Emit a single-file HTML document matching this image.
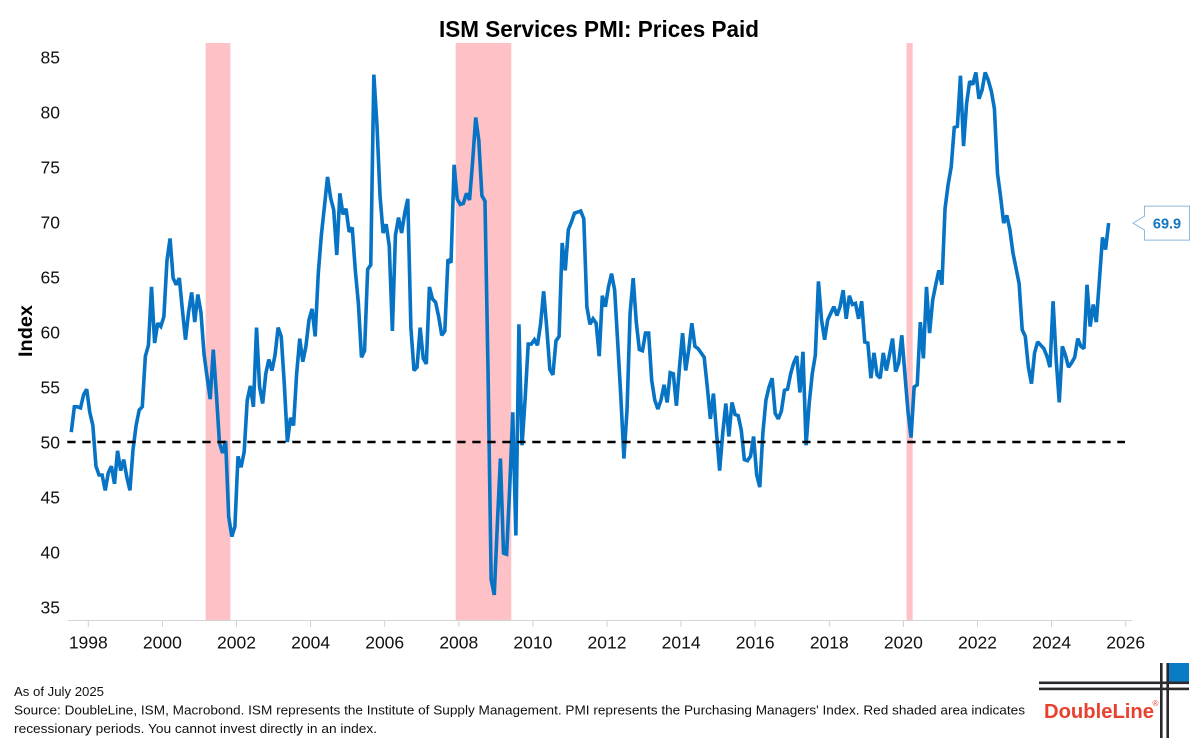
<!DOCTYPE html>
<html lang="en">
<head>
<meta charset="utf-8">
<title>ISM Services PMI: Prices Paid</title>
<style>
  html, body { margin: 0; padding: 0; background: #ffffff; }
  svg { display: block; font-family: "Liberation Sans", sans-serif; }
</style>
</head>
<body>
<svg id="chart" xmlns="http://www.w3.org/2000/svg" width="1200" height="750" viewBox="0 0 1200 750">
  <rect x="0" y="0" width="1200" height="750" fill="#ffffff"/>
  <text x="599" y="37" text-anchor="middle" font-size="23" font-weight="bold" fill="#000" textLength="320" lengthAdjust="spacingAndGlyphs">ISM Services PMI: Prices Paid</text>
  <g id="recession-layer"></g>
  <g id="axis-layer"></g>
  <path id="index-line" fill="none" stroke="#0673c4" stroke-width="3.6" stroke-linejoin="miter" stroke-miterlimit="2"/>
  <line id="reference-line" stroke="#000" stroke-width="2.6" stroke-dasharray="8.3 6.7"/>
  <text transform="translate(32,331) rotate(-90)" text-anchor="middle" font-size="19" font-weight="bold" fill="#000" textLength="52" lengthAdjust="spacingAndGlyphs">Index</text>
  <g id="callout">
    <path id="callout-box" fill="#fff" stroke="#8db8de" stroke-width="1"/>
    <text id="callout-text" text-anchor="middle" font-size="14.5" font-weight="bold" fill="#1277bd"></text>
  </g>
  <g font-size="12.5" fill="#111">
    <text x="14" y="696" textLength="90" lengthAdjust="spacingAndGlyphs">As of July 2025</text>
    <text x="14" y="714.5" textLength="1011" lengthAdjust="spacingAndGlyphs">Source: DoubleLine, ISM, Macrobond. ISM represents the Institute of Supply Management. PMI represents the Purchasing Managers' Index. Red shaded area indicates</text>
    <text x="14" y="733" textLength="363" lengthAdjust="spacingAndGlyphs">recessionary periods. You cannot invest directly in an index.</text>
  </g>
  <g>
    <rect x="1169" y="663" width="20" height="19.5" fill="#0a7cc6"/>
    <rect x="1039" y="681.5" width="150" height="2.6" fill="#2a2a2e"/>
    <rect x="1039" y="687.6" width="150" height="2.6" fill="#2a2a2e"/>
    <rect x="1160" y="663" width="2.6" height="75" fill="#2a2a2e"/>
    <rect x="1166.4" y="663" width="2.6" height="75" fill="#2a2a2e"/>
    <text x="1044" y="718" font-size="20" font-weight="bold" fill="#e8412f" textLength="110" lengthAdjust="spacingAndGlyphs">DoubleLine</text>
    <text x="1152.5" y="706" font-size="8" fill="#e8412f">®</text>
  </g>
</svg>
<script>
// Chart data
const seriesStartYear = 1997.54;
const indexValues = [
  50.9,53.2,53.2,53.1,54.3,54.8,52.7,51.5,47.8,47,
  47,45.6,47.2,47.8,46.2,49.2,47.4,48.4,46.8,45.6,
  49.3,51.5,52.9,53.2,57.8,58.8,64.1,59,60.8,60.5,
  61.4,66.5,68.5,64.9,64.3,64.9,62,59.3,61.8,63.6,
  60.9,63.4,61.8,58,55.9,53.9,58.4,54.4,49.9,49,
  50.1,43.2,41.4,42.3,48.7,47.7,49.1,53.8,55.1,53.2,
  60.4,55,53.5,56.2,57.5,56.5,57.9,60.4,59.6,55.3,
  50,52.2,51.5,56.2,59.4,57.3,58.7,61.1,62.1,59.6,
  65.3,68.8,71.4,74.1,
  72.2,71.1,67,72.6,70.7,71.2,69.1,69.5,65.6,62.6,
  57.7,58.3,65.7,66.1,83.4,78.9,72.4,69,69.8,67.8,
  60.1,68.8,70.4,69,70.8,72.1,60.4,56.5,56.8,60.4,
  57.6,57.1,64.1,63,62.7,61.4,59.7,60.1,66.6,66.3,
  75.2,72.1,71.6,71.7,72.6,72,75.5,79.5,77.4,72.4,
  71.9,56.2,37.5,36.1,42.5,48.5,39.9,39.8,45.8,52.7,
  41.5,60.7,49.7,53.9,58.9,58.9,59.3,58.8,60.7,63.7,
  60.4,56.6,56.1,59.2,59.6,68.1,65.6,69.3,70,70.8,
  70.9,71,70.3,62.3,60.7,
  61.2,60.8,57.8,63.3,62.3,64.1,65.3,63.8,59,54.1,
  48.5,52.9,61.7,64.9,60.9,58.4,58.3,59.9,59.9,55.6,
  53.8,53,53.8,55.2,53.6,56.3,56.2,53.3,56.8,59.9,
  56.5,58.4,60.8,58.7,58.5,58.1,57.7,55,52.1,54.4,
  50.8,47.4,50.8,53.5,50.5,53.6,52.5,52.4,51.1,48.4,
  48.3,48.7,50.5,47,45.9,50.8,53.8,55,55.8,52.6,
  52.1,52.8,54.7,54.8,56.2,57.2,57.8,54.5,58.2,49.7,
  53.5,56.2,57.9,64.6,61.1,59.3,61.1,61.7,62.3,61.5,
  62.3,63.8,61.2,63.3,62.5,62.6,61.2,62.8,59.1,59,
  55.8,58.1,56.1,55.8,58.1,56.5,57.9,59.4,56.4,57.2,
  59.7,56.2,52.8,50.4,
  55,55.2,60.9,57.6,64.1,59.9,62.9,64.3,65.6,64.3,
  71.2,73.4,75,78.6,78.7,83.3,76.9,80.8,82.8,82.5,
  83.6,81.2,82,83.6,82.9,81.9,80.3,74.4,72.3,69.9,
  70.6,69.3,67.2,65.8,64.4,60.2,59.6,56.8,55.3,58.1,
  59.1,58.8,58.5,57.8,56.8,62.8,57.5,53.6,58.7,57.9,
  56.8,57.2,57.7,59.4,58.7,58.5,64.3,60.5,62.5,60.9,
  64.7,68.6,67.5,69.9
];
const xTickYears = [1998,2000,2002,2004,2006,2008,2010,2012,2014,2016,2018,2020,2022,2024,2026];
const yTickValues = [35,40,45,50,55,60,65,70,75,80,85];
const recessionStarts = [2001.1667, 2007.9167, 2020.0833];
const recessionEnds = [2001.8333, 2009.4167, 2020.25];
const referenceLevel = 50;

// Axis functions
function xScale(year) { return 88.3 + (year - 1998) * 37.05; }
function yScale(value) { return 442 - (value - 50) * 11; }

const NS = 'http://www.w3.org/2000/svg';
const plotTop = 43;
const plotBottom = 620;

const recessionLayer = document.getElementById('recession-layer');
recessionStarts.forEach(function (start, i) {
  const band = document.createElementNS(NS, 'rect');
  
  
  band.setAttribute('x', xScale(start));
  band.setAttribute('y', plotTop);
  band.setAttribute('width', xScale(recessionEnds[i]) - xScale(start));
  band.setAttribute('height', plotBottom - plotTop);
  band.setAttribute('fill', '#fec1c6');
  recessionLayer.appendChild(band);
});

const axisLayer = document.getElementById('axis-layer');
const axisLine = document.createElementNS(NS, 'line');


axisLine.setAttribute('x1', 68);
axisLine.setAttribute('x2', 1132);
axisLine.setAttribute('y1', plotBottom + 0.5);
axisLine.setAttribute('y2', plotBottom + 0.5);
axisLine.setAttribute('stroke', '#d4d4d4');
axisLine.setAttribute('stroke-width', '1');
axisLayer.appendChild(axisLine);

xTickYears.forEach(function (year) {
  const px = xScale(year);
  const tick = document.createElementNS(NS, 'line');
  
  
  tick.setAttribute('x1', px);
  tick.setAttribute('x2', px);
  tick.setAttribute('y1', plotBottom);
  tick.setAttribute('y2', plotBottom + 7);
  tick.setAttribute('stroke', '#d0d0d0');
  tick.setAttribute('stroke-width', '1');
  axisLayer.appendChild(tick);
  const label = document.createElementNS(NS, 'text');
  
  
  label.setAttribute('x', px);
  label.setAttribute('y', 648.5);
  label.setAttribute('text-anchor', 'middle');
  label.setAttribute('font-size', '17.5');
  label.setAttribute('fill', '#111');
  label.textContent = String(year);
  axisLayer.appendChild(label);
});

yTickValues.forEach(function (value) {
  const label = document.createElementNS(NS, 'text');
  
  
  label.setAttribute('x', 60);
  label.setAttribute('y', yScale(value) + 6.5);
  label.setAttribute('text-anchor', 'end');
  label.setAttribute('font-size', '17.5');
  label.setAttribute('fill', '#111');
  label.textContent = String(value);
  axisLayer.appendChild(label);
});

const linePath = indexValues.map(function (value, i) {
  const year = seriesStartYear + i / 12;
  return (i === 0 ? 'M' : 'L') + xScale(year).toFixed(2) + ' ' + yScale(value).toFixed(2);
}).join(' ');
document.getElementById('index-line').setAttribute('d', linePath);

const referenceLine = document.getElementById('reference-line');
referenceLine.setAttribute('x1', 67.3);
referenceLine.setAttribute('x2', 1125);
referenceLine.setAttribute('y1', yScale(referenceLevel));
referenceLine.setAttribute('y2', yScale(referenceLevel));

const lastValue = indexValues[indexValues.length - 1];
const lastY = yScale(lastValue);
const boxLeft = 1144.5;
const boxRight = 1189.5;
document.getElementById('callout-box').setAttribute('d',
  'M' + boxLeft + ' ' + (lastY - 17) +
  ' L' + boxRight + ' ' + (lastY - 17) +
  ' L' + boxRight + ' ' + (lastY + 17) +
  ' L' + boxLeft + ' ' + (lastY + 17) +
  ' L' + boxLeft + ' ' + (lastY + 7) +
  ' L1133 ' + lastY +
  ' L' + boxLeft + ' ' + (lastY - 7) + ' Z');
const calloutText = document.getElementById('callout-text');
calloutText.setAttribute('x', 1167);
calloutText.setAttribute('y', lastY + 5.5);
calloutText.textContent = lastValue.toFixed(1);
</script>
</body>
</html>
